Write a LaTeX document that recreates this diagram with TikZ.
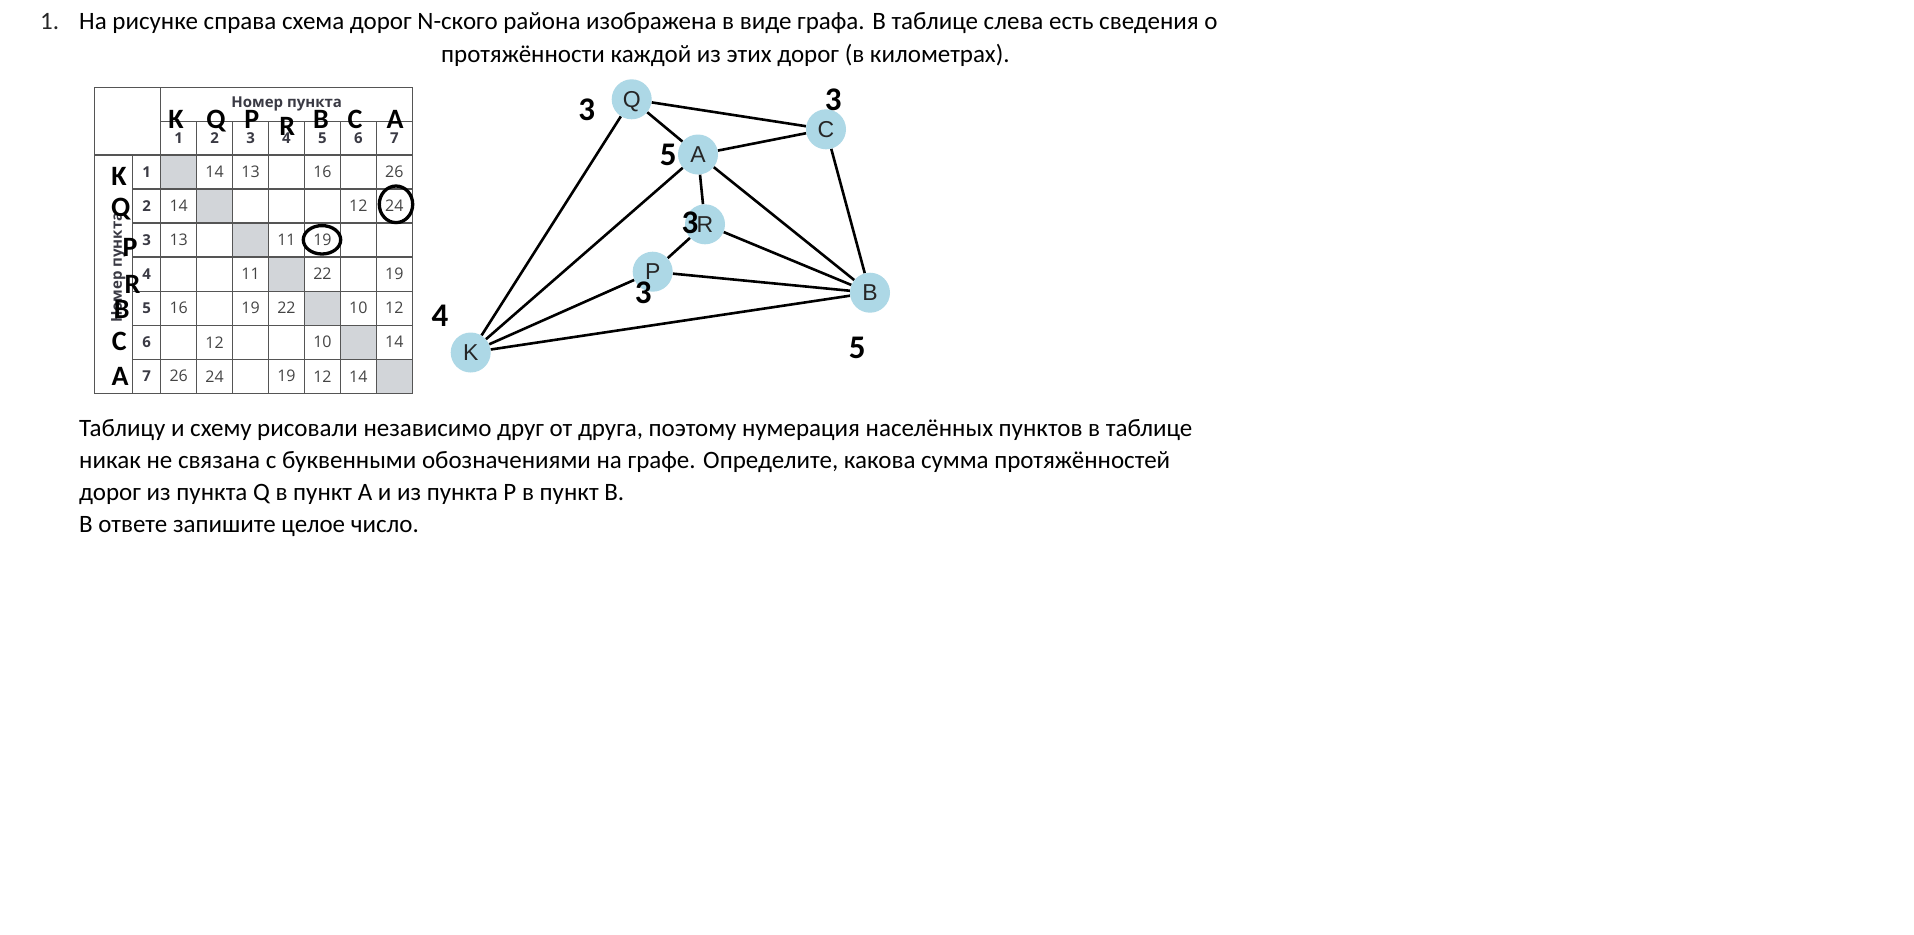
\documentclass[tikz,border=0pt]{standalone}
\usepackage{fontspec}
\setmainfont{Carlito}
\newfontfamily\tabfont{Open Sans}
\newfontfamily\grfont{Liberation Sans}
\pgfdeclarelayer{back}
\pgfdeclarelayer{edges}
\pgfsetlayers{back,edges,main}
\definecolor{nodeblue}{HTML}{ADD8E6}
\definecolor{cellgrey}{HTML}{D2D5D9}
\definecolor{gridgrey}{HTML}{555555}
\definecolor{numgrey}{HTML}{444444}
\definecolor{headgrey}{HTML}{3A3A44}
\begin{document}
\begin{tikzpicture}[x=1bp,y=-1bp,
 body/.style={anchor=base west, inner sep=0, font=\fontsize{25bp}{29bp}\selectfont},
 tnum/.style={inner sep=0, text=numgrey, font=\tabfont\fontsize{16bp}{19bp}\selectfont},
 thead/.style={inner sep=0, text=headgrey, font=\tabfont\bfseries\fontsize{15bp}{18bp}\selectfont},
 overlet/.style={anchor=base, inner sep=0, font=\bfseries\fontsize{28bp}{30bp}\selectfont},
 vert/.style={circle, fill=nodeblue, minimum size=40bp, inner sep=0, text height=16.5bp, text depth=0bp, text=black!85, font=\grfont\fontsize{23bp}{25bp}\selectfont},
 road/.style={line width=2.6bp, black},
 weight/.style={anchor=base, inner sep=0, font=\bfseries\fontsize{33bp}{35bp}\selectfont},
 tabline/.style={draw=gridgrey, line width=1.3bp},
 ring/.style={draw=black, line width=3.3bp}
]
\begin{pgfonlayer}{back}
\fill[white] (0,0) rectangle (1914,935);
\end{pgfonlayer}
\useasboundingbox (0,0) rectangle (1914,935);

% ---- text ----
\node[body, text=black!85] (num) at (40,29) {1.};
\node[body] (l1) at (79,29) {На рисунке справа схема дорог N-ского района изображена в виде графа. В таблице слева есть сведения о};
\node[body] (l2) at (441,62.5) {протяжённости каждой из этих дорог (в километрах).};
\node[body] (p1) at (79,436) {Таблицу и схему рисовали независимо друг от друга, поэтому нумерация населённых пунктов в таблице};
\node[body] (p2) at (79,468) {никак не связана с буквенными обозначениями на графе. Определите, какова сумма протяжённостей};
\node[body] (p3) at (79,500) {дорог из пункта Q в пункт A и из пункта P в пункт B.};
\node[body] (p4) at (79,532) {В ответе запишите целое число.};

% ---- table ----
\foreach \i in {1,...,7}
  \fill[cellgrey] ({160.7+(\i-1)*35.94},{155+(\i-1)*34.04}) rectangle ++(35.94,34.04);
\draw[tabline] (94.3,87.3) rectangle (412.3,393.3);
\draw[tabline] (94.3,155) -- (412.3,155);
\draw[tabline] (160.7,121.7) -- (412.3,121.7);
\draw[tabline] (160.7,87.3) -- (160.7,393.3);
\draw[tabline] (132.7,155) -- (132.7,393.3);
\foreach \j in {1,...,6}
  \draw[tabline] ({160.7+\j*35.94},121.7) -- ({160.7+\j*35.94},393.3);
\foreach \i in {1,...,6}
  \draw[tabline] (132.7,{155+\i*34.04}) -- (412.3,{155+\i*34.04});

\node[thead] (hdr) at (286.7,104) {Номер пункта};
\node[thead, rotate=90] (hdrv) at (118.3,267.7) {Номер пункта};
\foreach \j in {1,...,7} {
  \node[thead] (col\j) at ({160.7+(\j-0.5)*35.94},138.3) {\j};
  \node[thead] (row\j) at (146.7,{155+(\j-0.5)*34.04}) {\j};
}
\foreach \r/\c/\v in {1/2/14,1/3/13,1/5/16,1/7/26,
                      2/1/14,2/6/12,2/7/24,
                      3/1/13,3/4/11,3/5/19,
                      4/3/11,4/5/22,4/7/19,
                      5/1/16,5/3/19,5/4/22,5/6/10,5/7/12,
                      6/2/12,6/5/10,6/7/14,
                      7/1/26,7/2/24,7/4/19,7/5/12,7/6/14}
  \node[tnum] (t\r\c) at ({160.7+(\c-0.5)*35.94},{155+(\r-0.5)*34.04}) {\v};
\draw[ring] (396,204.3) ellipse [x radius=16.7, y radius=18.3];
\draw[ring] (322,239.8) ellipse [x radius=18.7, y radius=14.2];

% overlay letters, top
\node[overlet] (oK) at (176,128.3) {K};
\node[overlet] (oQ) at (216,128.3) {Q};
\node[overlet] (oP) at (251.7,128.3) {P};
\node[overlet] (oR) at (287.3,135) {R};
\node[overlet] (oB) at (321,128.3) {B};
\node[overlet] (oC) at (355,128.3) {C};
\node[overlet] (oA) at (395,128.3) {A};
% overlay letters, left
\node[overlet] (lK) at (119,185) {K};
\node[overlet] (lQ) at (120.7,216.7) {Q};
\node[overlet] (lP) at (130,256.7) {P};
\node[overlet] (lR) at (132.5,293.3) {R};
\node[overlet] (lB) at (121.7,318.3) {B};
\node[overlet] (lC) at (119.3,350) {C};
\node[overlet] (lA) at (120,385) {A};

% ---- graph ----
\node[vert] (Q) at (631.7,99.3) {Q};
\node[vert] (C) at (826,129.3) {C};
\node[vert] (A) at (698,154.5) {A};
\node[vert] (R) at (705,224.3) {R};
\node[vert] (P) at (652.7,271.7) {P};
\node[vert] (B) at (870,292.7) {B};
\node[vert] (K) at (470.7,352.5) {K};
\begin{pgfonlayer}{edges}
\draw[road] (Q)--(C) (Q)--(A) (Q)--(K) (A)--(C) (A)--(R) (A)--(K) (A)--(B)
            (C)--(B) (R)--(P) (R)--(B) (P)--(B) (P)--(K) (K)--(B);
\end{pgfonlayer}
\node[weight] (wQ) at (586.7,120) {3};
\node[weight] (wC) at (833.3,110) {3};
\node[weight] (wA) at (668.3,165) {5};
\node[weight] (wR) at (690,233.3) {3};
\node[weight] (wP) at (643.3,303.3) {3};
\node[weight] (wK) at (440,326.7) {4};
\node[weight] (wB) at (857.3,358.3) {5};
\end{tikzpicture}
\end{document}
